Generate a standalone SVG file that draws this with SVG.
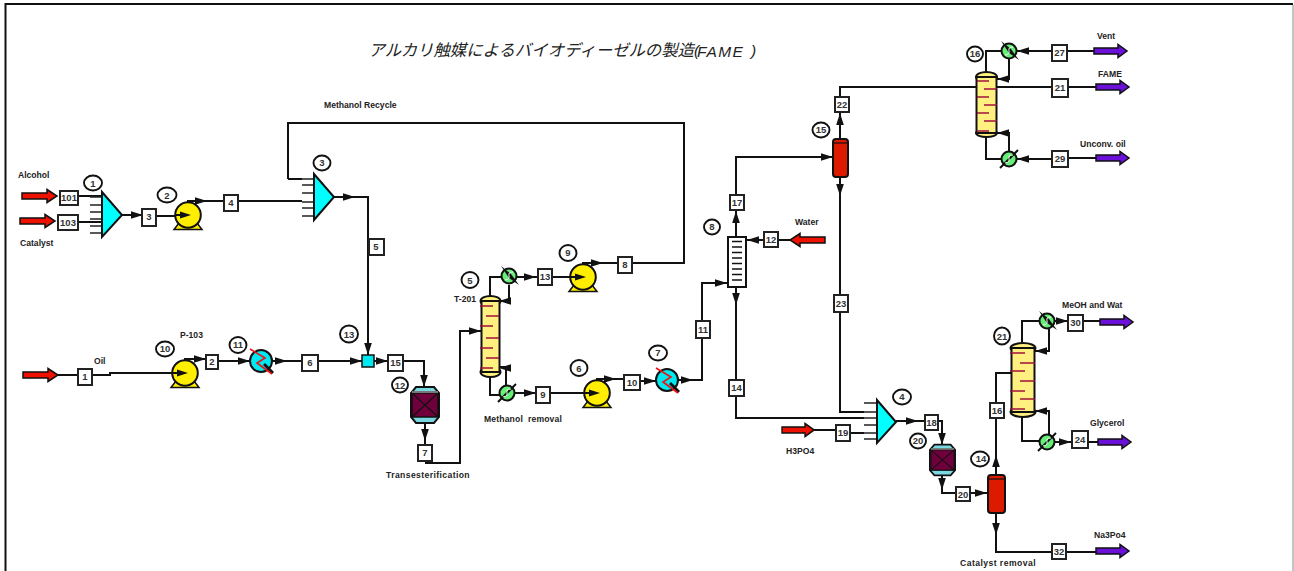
<svg xmlns="http://www.w3.org/2000/svg" width="1294" height="571" viewBox="0 0 1294 571">
<style>
text{font-family:"Liberation Sans",Arial,sans-serif;fill:#222}
.l{font-size:8.6px;font-weight:bold}
.b{font-size:9.5px;font-weight:bold;text-anchor:middle;fill:#333}
.n{font-size:9.5px;font-weight:bold;text-anchor:middle;fill:#333}
.box{fill:#fff;stroke:#222;stroke-width:2}
.c{fill:#fff;stroke:#111;stroke-width:1.9}
.w{fill:none;stroke:#111;stroke-width:2}
.tri{fill:#00ffff;stroke:#111;stroke-width:2;stroke-linejoin:miter}
.st{fill:none;stroke:#222;stroke-width:1.5}
.tr{fill:none;stroke:#a0103c;stroke-width:1.6}
.col{fill:#fff080;stroke:#111;stroke-width:2}
.cap{fill:#fff080;stroke:#111;stroke-width:2}
.red{fill:#dc1a00;stroke:#111;stroke-width:2}
</style>
<defs>
<path id="ar" d="M0 0L-12-3.800V3.800Z" fill="#111"/>
<path id="al" d="M0 0L12-3.800V3.800Z" fill="#111"/>
<path id="ad" d="M0 0L-3.800-12H3.800Z" fill="#111"/>
<path id="au" d="M0 0L-3.800 12H3.800Z" fill="#111"/>
<path id="feed" d="M0-3H25V-6.500L35 0L25 6.500V3H0Z" fill="#ee1100" stroke="#111" stroke-width="1.500"/>
<path id="prod" d="M0-3H24V-6.500L33 0L24 6.500V3H0Z" fill="#6a10d8" stroke="#111" stroke-width="1.500"/>
<g id="pump">
<path d="M-14 14.500H14L9 8H-9Z" fill="#ffee00" stroke="#111" stroke-width="1.500"/>
<circle r="12.800" fill="#ffee00" stroke="#111" stroke-width="2"/>
<path d="M-12-1H-8V-3.500L3 0L-8 3.500V1H-12Z" fill="#111"/>
</g>
<g id="hx">
<circle r="11" fill="#00e8f0" stroke="#111" stroke-width="2"/>
<path d="M3 3L12 12" stroke="#111" stroke-width="2.800"/>
<path d="M-11-12L4-3L-4 2L11 13" fill="none" stroke="#ee1111" stroke-width="1.600"/>
</g>
<g id="cond">
<circle r="7.500" fill="#66ee77" stroke="#111" stroke-width="2"/>
<path d="M-8-10L2-2L10 9L0 2Z" fill="#111"/>
<path d="M4-4C-5-4 5 3-4 4" fill="none" stroke="#fff" stroke-width="1"/>
</g>
<g id="reb">
<circle r="7.500" fill="#66ee77" stroke="#111" stroke-width="2"/>
<path d="M-9 9L9-9" stroke="#111" stroke-width="2"/>
<path d="M4-4C-5-4 5 3-4 4" fill="none" stroke="#fff" stroke-width="1"/>
</g>
<g id="reactor">
<path d="M-9-18H9L14-12V12L9 18H-9L-14 12V-12Z" fill="#7ad8e0" stroke="#111" stroke-width="2"/>
<rect x="-13" y="-12" width="26" height="24" fill="#70003c" stroke="#111" stroke-width="1.500"/>
<path d="M-13-12L13 12M13-12L-13 12" stroke="#111" stroke-width="1.200"/>
<rect x="-13" y="-14" width="26" height="2" fill="#777"/>
</g>
<path id="tr5" class="tr" d="M0 0H13M6 10H19M0 20H13M6 32H19M0 42H13M6 52H19M0 62H13"/>
</defs>
<rect width="1294" height="571" fill="#fff"/>
<path d="M5.500 571V4H1293" fill="none" stroke="#111" stroke-width="2"/>
<path d="M1293 5V571" fill="none" stroke="#888" stroke-width="1"/>
<text x="368.500" y="55.500" font-style="italic" style="font-family:'Liberation Sans','Noto Sans CJK JP',sans-serif;font-size:16.400px">アルカリ触媒によるバイオディーゼルの製造</text>
<text x="694" y="56" font-style="italic" style="font-size:15.500px">(</text>
<text x="697" y="57" font-style="italic" style="font-size:15.500px;letter-spacing:1.300px">FAME</text>
<text x="751" y="56" font-style="italic" style="font-size:15.500px">)</text>
<g id="connectors" class="w">
<path d="M78 196H102M78 222H102M122 215H142M156 216H176M188 202V201H238H302"/>
<path d="M334 197H368V355M288 179V123H684V263H583V264M288 179H302"/>
<path d="M58 375H78M92 375H110V373H172M185 360V359H206M218 361H250M272 361H302M318 361H362M374 361H388"/>
<path d="M403 361H424V387M425 423V445M425 463H460V331H481"/>
<path d="M490 296V277H503M509 285V301H500M515 277H538M552 277H572"/>
<path d="M490 377V395H500M506 386V367H500M514 393H536M550 393H585M597 380V379H624M640 381H656M678 380H702V283H728"/>
<path d="M736 237V157H833M778 240H747M764 240H790M736 288V418H864M840 138V87H976M840 178V412H864"/>
<path d="M814 430H836M850 433H864M896 421H925M938 421H942V445M942 475V493H956M970 493H988"/>
<path d="M996 475V373H1011M996 513V552H1052M1066 552H1096"/>
<path d="M986 72V51H1002M1009 59V79H997M1017 51H1052M1067 51H1094M997 87H1052M1068 87H1096M986 137V159H1002M1009 151V133H997M1017 159H1052M1068 158H1096"/>
<path d="M1022 343V321H1040M1049 329V351H1035M1055 321H1068M1083 321H1100M1022 417V441H1040M1049 434V411H1035M1055 442H1072M1088 442H1098"/>
<g stroke="none">
<use href="#ar" x="143" y="215"/><use href="#ar" x="207" y="201"/><use href="#ar" x="355" y="197"/>
<use href="#ad" x="368" y="355"/><use href="#ar" x="206" y="359"/><use href="#ar" x="250" y="361"/>
<use href="#ar" x="287" y="361"/><use href="#ar" x="362" y="361"/><use href="#ar" x="388" y="361"/>
<use href="#ad" x="424" y="387"/><use href="#ad" x="425" y="441"/><use href="#ar" x="481" y="331"/>
<use href="#al" x="499" y="301"/><use href="#ar" x="536" y="277"/><use href="#ar" x="603" y="263"/>
<use href="#al" x="499" y="368"/><use href="#ar" x="536" y="393"/><use href="#ar" x="616" y="379"/>
<use href="#ar" x="656" y="381"/><use href="#ar" x="693" y="380"/><use href="#ar" x="727" y="283"/>
<use href="#al" x="747" y="240"/><use href="#au" x="736" y="211"/><use href="#ad" x="736" y="305"/>
<use href="#ar" x="833" y="157"/><use href="#au" x="840" y="113"/><use href="#ad" x="840" y="196"/>
<use href="#ar" x="918" y="421"/><use href="#ad" x="942" y="445"/><use href="#ad" x="942" y="490"/>
<use href="#ar" x="987" y="493"/><use href="#au" x="996" y="455"/><use href="#ad" x="996" y="535"/>
<use href="#al" x="1017" y="51"/><use href="#al" x="997" y="79"/><use href="#al" x="1017" y="159"/><use href="#al" x="997" y="133"/>
<use href="#ar" x="1068" y="321"/><use href="#al" x="1035" y="351"/><use href="#ar" x="1071" y="442"/><use href="#al" x="1035" y="411"/>
</g>
</g>
<g id="feeds">
<use href="#feed" x="22" y="196"/><use href="#feed" x="20" y="221"/><use href="#feed" x="23" y="375"/>
<use href="#feed" transform="translate(825 240) scale(-1 1)"/><use href="#feed" transform="translate(782 430) scale(.92 1)"/>
<use href="#prod" x="1094" y="51"/><use href="#prod" x="1096" y="87"/><use href="#prod" x="1096" y="158"/>
<use href="#prod" x="1100" y="322"/><use href="#prod" x="1098" y="442"/><use href="#prod" x="1096" y="551"/>
</g>
<g id="mixer1"><path class="st" d="M90 197H102M90 205H102M90 212H102M90 219H102M90 226H102M90 233H102"/><path class="tri" d="M102 192V237L122 215Z"/><ellipse class="c" cx="93" cy="183" rx="9" ry="7.500"/><text class="n" x="93" y="187">1</text></g>
<g id="pump2"><use href="#pump" x="188" y="215"/><ellipse class="c" cx="167" cy="195" rx="9.500" ry="7.500"/><text class="n" x="167" y="199">2</text></g>
<g id="mixer3"><path class="st" d="M302 179H314M302 185H314M302 193H314M302 202H314M302 208H314M302 216H314"/><path class="tri" d="M314 174V220L334 197Z"/><ellipse class="c" cx="322" cy="163" rx="8.500" ry="7.500"/><text class="n" x="322" y="166">3</text></g>
<g id="pump10"><use href="#pump" x="185" y="373"/><ellipse class="c" cx="165" cy="349" rx="9" ry="7.500"/><text class="n" x="165" y="352">10</text></g>
<g id="hx11"><use href="#hx" x="261" y="361"/><ellipse class="c" cx="238" cy="345" rx="8.500" ry="8"/><text class="n" x="238" y="348">11</text></g>
<g id="split13"><rect x="362" y="355" width="12" height="12" fill="#00e8f0" stroke="#111" stroke-width="1.500"/><ellipse class="c" cx="349" cy="334" rx="9" ry="8.500"/><text class="n" x="349" y="338">13</text></g>
<g id="reactor12"><use href="#reactor" x="425" y="405"/><ellipse class="c" cx="400" cy="385" rx="8" ry="7.500"/><text class="n" x="400" y="389">12</text></g>
<g id="column5"><ellipse class="cap" cx="490.500" cy="301" rx="10" ry="5"/><ellipse class="cap" cx="490.500" cy="372" rx="10" ry="5"/><rect x="481.500" y="301" width="18" height="71" fill="#fff080" stroke="#111" stroke-width="2"/><use href="#tr5" x="480" y="306"/><ellipse class="c" cx="470" cy="280" rx="8.500" ry="8"/><text class="n" x="470" y="284">5</text></g>
<g id="cond5"><use href="#cond" x="509" y="276"/></g>
<g id="reb5"><use href="#reb" x="507" y="393"/></g>
<g id="pump9"><use href="#pump" x="583" y="277"/><ellipse class="c" cx="568" cy="253" rx="8.500" ry="8"/><text class="n" x="568" y="256">9</text></g>
<g id="pump6"><use href="#pump" x="597" y="393"/><ellipse class="c" cx="579" cy="368" rx="8.500" ry="8"/><text class="n" x="579" y="372">6</text></g>
<g id="hx7"><use href="#hx" x="667" y="380"/><ellipse class="c" cx="658" cy="353" rx="9" ry="7.500"/><text class="n" x="658" y="356">7</text></g>
<g id="washer8"><rect x="728" y="237" width="18" height="50" fill="#fff" stroke="#111" stroke-width="2"/><path d="M732 241.500H742M732 247H742M732 252.500H742M732 258H742M732 263.500H742M732 269H742M732 274.500H742M732 280H742" stroke="#111" stroke-width="1.300"/><ellipse class="c" cx="712" cy="227" rx="8" ry="7.500"/><text class="n" x="712" y="230">8</text></g>
<g id="sep15"><rect class="red" x="833" y="139" width="15" height="38" rx="3"/><path d="M834 143H847" stroke="#111" stroke-width="1.200"/><ellipse class="c" cx="821" cy="130" rx="8.500" ry="7.500"/><text class="n" x="821" y="133">15</text></g>
<g id="column16"><ellipse class="cap" cx="986.500" cy="77" rx="10.500" ry="5"/><ellipse class="cap" cx="986.500" cy="133" rx="10.500" ry="4"/><rect x="976.500" y="77" width="20" height="56" fill="#fff080" stroke="#111" stroke-width="2"/><path class="tr" d="M977 81H989M984 89H997M977 97H989M984 105H997M977 113H989M984 121H997M977 131H989"/><ellipse class="c" cx="975" cy="54" rx="8" ry="7.500"/><text class="n" x="975" y="57">16</text></g>
<g id="cond16"><use href="#cond" x="1009" y="51"/></g>
<g id="reb16"><use href="#reb" x="1009" y="159"/></g>
<g id="mixer4"><path class="st" d="M864 403H877M864 412H877M864 418H877M864 425H877M864 433H877M864 439H877"/><path class="tri" d="M877 400V443L896 422Z"/><ellipse class="c" cx="902" cy="397" rx="9" ry="7.500"/><text class="n" x="902" y="400">4</text></g>
<g id="reactor20"><use href="#reactor" transform="translate(942.500 460) scale(.9 .85)"/><ellipse class="c" cx="918" cy="441" rx="8" ry="7.500"/><text class="n" x="918" y="444">20</text></g>
<g id="sep14"><rect class="red" x="988" y="475" width="17" height="38" rx="3"/><path d="M989 479H1004" stroke="#111" stroke-width="1.200"/><ellipse class="c" cx="980" cy="459" rx="9" ry="7.500"/><text class="n" x="981" y="462">14</text></g>
<g id="column21"><ellipse class="cap" cx="1023" cy="348" rx="12.500" ry="5"/><ellipse class="cap" cx="1023" cy="412" rx="12.500" ry="5"/><rect x="1011.500" y="348" width="23" height="64" fill="#fff080" stroke="#111" stroke-width="2"/><path class="tr" d="M1010 353H1025M1020 363H1035M1010 371H1025M1020 381H1035M1010 391H1025M1020 399H1035M1010 409H1025"/><ellipse class="c" cx="1002" cy="336" rx="8" ry="8.500"/><text class="n" x="1002" y="340">21</text></g>
<g id="cond21"><use href="#cond" x="1047" y="321"/></g>
<g id="reb21"><use href="#reb" x="1047" y="442"/></g>
<g id="labels">
<text class="l" x="18" y="178">Alcohol</text><text class="l" x="20" y="246">Catalyst</text><text class="l" x="94" y="364">Oil</text><text class="l" x="180" y="338">P-103</text>
<text class="l" x="324" y="108">Methanol Recycle</text><text class="l" x="454" y="302">T-201</text><text class="l" x="484" y="422" xml:space="preserve" letter-spacing=".15">Methanol  removal</text><text class="l" x="386" y="478" letter-spacing=".4">Transesterification</text>
<text class="l" x="795" y="225">Water</text><text class="l" x="786" y="454">H3PO4</text><text class="l" x="960" y="566" letter-spacing=".45">Catalyst removal</text><text class="l" x="1094" y="538">Na3Po4</text>
<text class="l" x="1097" y="39">Vent</text><text class="l" x="1098" y="77">FAME</text><text class="l" x="1080" y="147">Unconv. oil</text><text class="l" x="1062" y="308" xml:space="preserve">MeOH and Wat</text><text class="l" x="1090" y="426">Glycerol</text>
</g>
<g id="streams">
<rect class="box" x="60" y="191" width="18" height="14"/><text class="b" x="69" y="201">101</text>
<rect class="box" x="58" y="215" width="20" height="15"/><text class="b" x="68" y="226">103</text>
<rect class="box" x="142" y="209" width="14" height="17"/><text class="b" x="149" y="220">3</text>
<rect class="box" x="224" y="195" width="14" height="16"/><text class="b" x="231" y="206">4</text>
<rect class="box" x="369" y="239" width="15" height="16"/><text class="b" x="376" y="250">5</text>
<rect class="box" x="78" y="369" width="14" height="16"/><text class="b" x="85" y="380">1</text>
<rect class="box" x="206" y="355" width="12" height="14"/><text class="b" x="212" y="365">2</text>
<rect class="box" x="302" y="355" width="16" height="16"/><text class="b" x="310" y="366">6</text>
<rect class="box" x="388" y="355" width="15" height="16"/><text class="b" x="395.500" y="366">15</text>
<rect class="box" x="418" y="445" width="14" height="16"/><text class="b" x="425" y="456">7</text>
<rect class="box" x="538" y="269" width="14" height="16"/><text class="b" x="545" y="280">13</text>
<rect class="box" x="618" y="257" width="14" height="16"/><text class="b" x="625" y="268">8</text>
<rect class="box" x="536" y="387" width="14" height="16"/><text class="b" x="543" y="398">9</text>
<rect class="box" x="624" y="375" width="16" height="15"/><text class="b" x="632" y="386">10</text>
<rect class="box" x="696" y="321" width="14" height="17"/><text class="b" x="703" y="333">11</text>
<rect class="box" x="730" y="195" width="14" height="15"/><text class="b" x="737" y="206">17</text>
<rect class="box" x="764" y="232" width="14" height="15"/><text class="b" x="771" y="243">12</text>
<rect class="box" x="729" y="380" width="15" height="16"/><text class="b" x="736.500" y="391">14</text>
<rect class="box" x="835" y="97" width="14" height="15"/><text class="b" x="842" y="108">22</text>
<rect class="box" x="834" y="295" width="14" height="17"/><text class="b" x="841" y="307">23</text>
<rect class="box" x="836" y="425" width="14" height="16"/><text class="b" x="843" y="436">19</text>
<rect class="box" x="925" y="415" width="13" height="15"/><text class="b" x="931.500" y="426">18</text>
<rect class="box" x="956" y="487" width="14" height="14"/><text class="b" x="963" y="498">20</text>
<rect class="box" x="990" y="403" width="14" height="15"/><text class="b" x="997" y="414">16</text>
<rect class="box" x="1052" y="544" width="14" height="15"/><text class="b" x="1059" y="555">32</text>
<rect class="box" x="1052" y="45" width="15" height="16"/><text class="b" x="1059.500" y="56">27</text>
<rect class="box" x="1052" y="79" width="16" height="18"/><text class="b" x="1060" y="91">21</text>
<rect class="box" x="1052" y="151" width="16" height="16"/><text class="b" x="1060" y="162">29</text>
<rect class="box" x="1068" y="315" width="15" height="16"/><text class="b" x="1075.500" y="326">30</text>
<rect class="box" x="1072" y="431" width="16" height="17"/><text class="b" x="1080" y="443">24</text>
</g>
</svg>
